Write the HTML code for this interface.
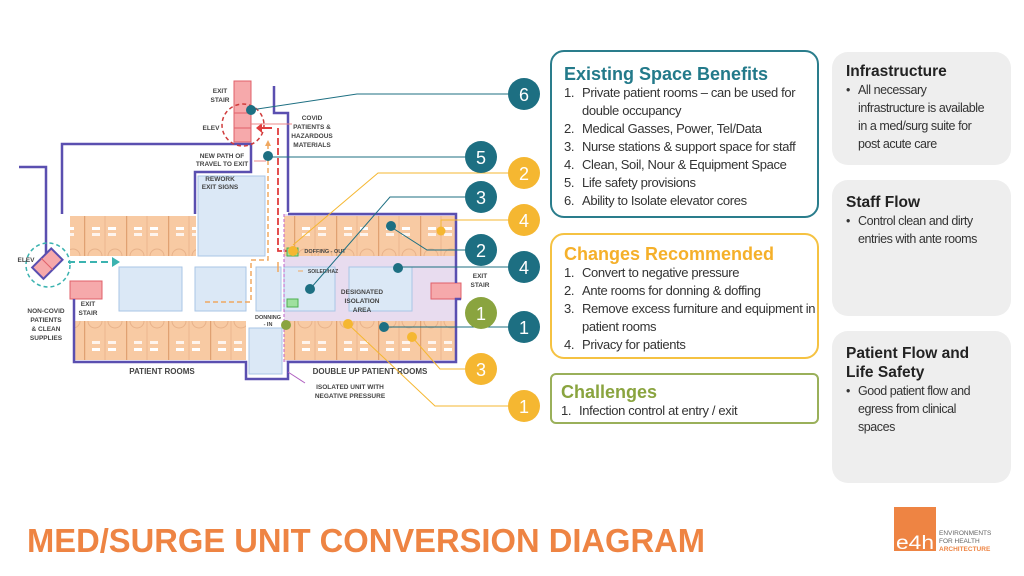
<!DOCTYPE html>
<html><head><meta charset="utf-8">
<style>
body{margin:0;width:1024px;height:576px;background:#fff;overflow:hidden;position:relative;font-family:"Liberation Sans",sans-serif}
.box{position:absolute;border-radius:14px;box-sizing:border-box}
.h{font-weight:bold;font-size:18px;line-height:20px}
ol{margin:0;padding:0;list-style:none;font-family:"Liberation Sans Narrow","Liberation Sans",sans-serif;font-size:13px;letter-spacing:-0.35px;color:#333;line-height:18px}
ol li{position:relative;padding-left:18px}
ol li span{position:absolute;left:0}
.g{background:#eeeeee;position:absolute;border-radius:16px;left:832px;width:179px;padding:10px 0 0 14px;box-sizing:border-box}
.g .t{font-weight:bold;font-size:15.5px;color:#222;line-height:19px}
.g .b{font-family:"Liberation Sans Narrow","Liberation Sans",sans-serif;font-size:12.5px;letter-spacing:-0.45px;color:#333;line-height:18px;padding-left:12px;padding-right:22px;position:relative}
.g .b:before{content:"•";position:absolute;left:0}
</style></head><body>
<svg width="1024" height="576" style="position:absolute;left:0;top:0">
<defs>
<pattern id="rt" x="0" y="216" width="42" height="40" patternUnits="userSpaceOnUse">
<rect width="42" height="40" fill="#f8caa3"/>
<line x1="0.5" y1="0" x2="0.5" y2="40" stroke="#e0a172" stroke-width="1.5"/>
<line x1="21" y1="0" x2="21" y2="40" stroke="#e8b28a" stroke-width="0.8"/>
<rect x="8" y="11" width="8" height="3" fill="#fff"/><rect x="24" y="11" width="8" height="3" fill="#fff"/>
<rect x="8" y="17" width="8" height="3" fill="#fff" opacity=".8"/><rect x="24" y="17" width="8" height="3" fill="#fff" opacity=".8"/>
<path d="M4 40 A7 7 0 0 1 18 40 M24 40 A7 7 0 0 1 38 40" fill="none" stroke="#e8b28a"/>
</pattern>
<pattern id="rb" x="0" y="321" width="42" height="39" patternUnits="userSpaceOnUse">
<rect width="42" height="39" fill="#f8caa3"/>
<line x1="0.5" y1="0" x2="0.5" y2="39" stroke="#e0a172" stroke-width="1.5"/>
<line x1="21" y1="0" x2="21" y2="39" stroke="#e8b28a" stroke-width="0.8"/>
<rect x="8" y="20" width="8" height="3" fill="#fff" opacity=".8"/><rect x="24" y="20" width="8" height="3" fill="#fff" opacity=".8"/>
<rect x="8" y="27" width="8" height="3" fill="#fff"/><rect x="24" y="27" width="8" height="3" fill="#fff"/>
<path d="M4 0 A7 7 0 0 0 18 0 M24 0 A7 7 0 0 0 38 0" fill="none" stroke="#e8b28a"/>
</pattern>
</defs>
<rect x="284" y="214" width="172" height="148" fill="#e8dcef"/>
<rect x="70" y="216" width="126" height="40" fill="url(#rt)"/>
<rect x="284" y="216" width="172" height="40" fill="url(#rt)"/>
<rect x="75" y="321" width="171" height="39" fill="url(#rb)"/>
<rect x="284" y="321" width="172" height="39" fill="url(#rb)"/>
<g fill="#dbe8f6" stroke="#a9c6e6" stroke-width="1">
<rect x="198" y="176" width="67" height="80"/>
<rect x="119" y="267" width="63" height="44"/>
<rect x="195" y="267" width="51" height="44"/>
<rect x="256" y="267" width="25" height="44"/>
<rect x="284" y="267" width="51" height="44"/>
<rect x="349" y="267" width="63" height="44"/>
<rect x="249" y="328" width="33" height="46"/>
</g>
<g fill="#f6a9ab" stroke="#e0606a" stroke-width="1">
<rect x="234" y="81" width="17" height="61"/>
<line x1="234" y1="113" x2="251" y2="113"/><line x1="234" y1="128" x2="251" y2="128"/>
<rect x="431" y="283" width="30" height="16"/>
<rect x="70" y="281" width="32" height="18"/>
</g>
<g fill="none" stroke="#5a4fb0" stroke-width="2.5">
<path d="M62 214 V144 H251 V172 H195 V214"/>
<path d="M274 86 V113 H288 V212"/>
<path d="M19 167 H46 V256"/>
<path d="M74 299 V362 H246 V379 H288 V362 H456 V299 H461"/>
<path d="M288 214 H456 V283"/>
</g>
<line x1="284" y1="214" x2="284" y2="362" stroke="#c060c8" stroke-width="1" stroke-dasharray="3 2"/>
<line x1="288" y1="372" x2="305" y2="383" stroke="#b060c0" stroke-width="1"/>
<circle cx="48" cy="265" r="22" fill="none" stroke="#3bb3b0" stroke-width="1.5" stroke-dasharray="4 3"/>
<g transform="rotate(-45 47 264)"><rect x="34" y="256" width="27" height="16" fill="#f6a9ab" stroke="#5a4fb0" stroke-width="2"/><line x1="47" y1="256" x2="47" y2="272" stroke="#e0606a"/></g>
<line x1="68" y1="262" x2="112" y2="262" stroke="#3bb3b0" stroke-width="2" stroke-dasharray="7 4"/>
<path d="M112 257 L120 262 L112 267Z" fill="#3bb3b0"/>
<circle cx="243" cy="125" r="21" fill="none" stroke="#d03c3c" stroke-width="1.5" stroke-dasharray="4 3"/>
<path d="M278 128 V251 H290" fill="none" stroke="#e03c3c" stroke-width="1.8" stroke-dasharray="7 3"/>
<line x1="260" y1="128" x2="272" y2="128" stroke="#e03c3c" stroke-width="2"/>
<path d="M262 123 L256 128 L262 133Z" fill="#e03c3c"/>
<path d="M268 144 V260 H251 V302 H205" fill="none" stroke="#f0a860" stroke-width="1.5" stroke-dasharray="5 3"/>
<path d="M265 146 L268 140 L271 146Z" fill="#f0a860"/>
<line x1="278" y1="262" x2="278" y2="272" stroke="#f0a860" stroke-width="1.5"/>
<rect x="287" y="248" width="11" height="8" fill="#9fe09f" stroke="#4caf50"/>
<rect x="287" y="299" width="11" height="8" fill="#9fe09f" stroke="#4caf50"/>
<g font-family="Liberation Sans,sans-serif" font-weight="bold" font-size="6.5" fill="#444" text-anchor="middle">
<text x="220" y="93">EXIT</text><text x="220" y="102">STAIR</text>
<text x="211" y="130">ELEV</text>
<text x="312" y="120">COVID</text><text x="312" y="129">PATIENTS &amp;</text><text x="312" y="138">HAZARDOUS</text><text x="312" y="147">MATERIALS</text>
<text x="222" y="158">NEW PATH OF</text><text x="222" y="166">TRAVEL TO EXIT</text>
<text x="220" y="181">REWORK</text><text x="220" y="189">EXIT SIGNS</text>
<text x="26" y="262">ELEV</text>
<text x="46" y="313">NON-COVID</text><text x="46" y="322">PATIENTS</text><text x="46" y="331">&amp; CLEAN</text><text x="46" y="340">SUPPLIES</text>
<text x="88" y="306">EXIT</text><text x="88" y="315">STAIR</text>
<text x="480" y="278">EXIT</text><text x="480" y="287">STAIR</text>
<text x="362" y="294">DESIGNATED</text><text x="362" y="303">ISOLATION</text><text x="362" y="312">AREA</text>
<text x="325" y="253" font-size="5.5">DOFFING - OUT</text>
<text x="323" y="273" font-size="5">SOILED/HAZ</text>
<text x="268" y="319" font-size="5.5">DONNING</text><text x="268" y="326" font-size="5.5">- IN</text>
<text x="162" y="374" font-size="8">PATIENT ROOMS</text>
<text x="370" y="374" font-size="8">DOUBLE UP PATIENT ROOMS</text>
<text x="350" y="389">ISOLATED UNIT WITH</text><text x="350" y="398">NEGATIVE PRESSURE</text>
</g>
<g stroke-width="1" fill="none">
<path d="M251 124 H292" stroke="#e88"/>
<path d="M254 161 H266" stroke="#e88"/>
<path d="M298 252 H300 M298 271 H303" stroke="#f0a860"/>
</g>
<g fill="none" stroke-width="1">
<path d="M508 94 H357 L251 110" stroke="#1d6f82"/>
<path d="M465 157 H268" stroke="#1d6f82"/>
<path d="M508 173 H378 L293 245" stroke="#f5b731"/>
<path d="M465 197 H390 L310 289" stroke="#1d6f82"/>
<path d="M508 220 H441 V231" stroke="#f5b731"/>
<path d="M465 250 H427 L391 227" stroke="#1d6f82"/>
<path d="M508 267 H398" stroke="#1d6f82"/>
<path d="M508 327 H384" stroke="#1d6f82"/>
<path d="M465 369 H440 L412 337" stroke="#f5b731"/>
<path d="M508 406 H435 L348 324" stroke="#f5b731"/>
</g>
<g fill="#1d6f82"><circle cx="251" cy="110" r="5"/><circle cx="268" cy="156" r="5"/><circle cx="310" cy="289" r="5"/><circle cx="391" cy="226" r="5"/><circle cx="398" cy="268" r="5"/><circle cx="384" cy="327" r="5"/></g>
<g fill="#f5b731"><circle cx="293" cy="251" r="5"/><circle cx="441" cy="231" r="4.5"/><circle cx="412" cy="337" r="5"/><circle cx="348" cy="324" r="5"/></g>
<circle cx="286" cy="325" r="5" fill="#8aa43f"/>
<g font-family="Liberation Sans,sans-serif" font-size="18" fill="#fff" text-anchor="middle">
<circle cx="524" cy="94" r="16" fill="#1d6f82"/><text x="524" y="101">6</text>
<circle cx="481" cy="157" r="16" fill="#1d6f82"/><text x="481" y="164">5</text>
<circle cx="524" cy="173" r="16" fill="#f5b731"/><text x="524" y="180">2</text>
<circle cx="481" cy="197" r="16" fill="#1d6f82"/><text x="481" y="204">3</text>
<circle cx="524" cy="220" r="16" fill="#f5b731"/><text x="524" y="227">4</text>
<circle cx="481" cy="250" r="16" fill="#1d6f82"/><text x="481" y="257">2</text>
<circle cx="524" cy="267" r="16" fill="#1d6f82"/><text x="524" y="274">4</text>
<circle cx="481" cy="313" r="16" fill="#8aa43f"/><text x="481" y="320">1</text>
<circle cx="524" cy="327" r="16" fill="#1d6f82"/><text x="524" y="334">1</text>
<circle cx="481" cy="369" r="16" fill="#f5b731"/><text x="481" y="376">3</text>
<circle cx="524" cy="406" r="16" fill="#f5b731"/><text x="524" y="413">1</text>
</g>
<text x="27" y="552" font-family="Liberation Sans,sans-serif" font-weight="bold" font-size="33" fill="#ee8443" textLength="678" lengthAdjust="spacingAndGlyphs">MED/SURGE UNIT CONVERSION DIAGRAM</text>
<rect x="894" y="507" width="42" height="44" fill="#ee8443"/>
<text x="896" y="549" font-family="Liberation Sans,sans-serif" font-size="19" fill="#fff" textLength="38" lengthAdjust="spacingAndGlyphs">e4h</text>
<g font-family="Liberation Sans,sans-serif" font-size="6.5"><text x="939" y="535" fill="#666">ENVIRONMENTS</text><text x="939" y="543" fill="#666">FOR HEALTH</text><text x="939" y="551" fill="#ee8443" font-weight="bold">ARCHITECTURE</text></g>
</svg>

<div class="box" style="left:550px;top:50px;width:269px;height:168px;border:2px solid #2a7d8c;padding:12px 0 0 12px">
<div class="h" style="color:#237a8a">Existing Space Benefits</div>
<ol><li><span>1.</span>Private patient rooms – can be used for double occupancy</li><li><span>2.</span>Medical Gasses, Power, Tel/Data</li><li><span>3.</span>Nurse stations &amp; support space for staff</li><li><span>4.</span>Clean, Soil, Nour &amp; Equipment Space</li><li><span>5.</span>Life safety provisions</li><li><span>6.</span>Ability to Isolate elevator cores</li></ol>
</div>
<div class="box" style="left:550px;top:233px;width:269px;height:126px;border:2px solid #f5c242;padding:9px 0 0 12px">
<div class="h" style="color:#f5b02a">Changes Recommended</div>
<ol><li><span>1.</span>Convert to negative pressure</li><li><span>2.</span>Ante rooms for donning &amp; doffing</li><li><span>3.</span>Remove excess furniture and equipment in patient rooms</li><li><span>4.</span>Privacy for patients</li></ol>
</div>
<div class="box" style="left:550px;top:373px;width:269px;height:51px;border:2px solid #9ab05a;border-radius:6px;padding:7px 0 0 9px">
<div class="h" style="color:#8aa43f">Challenges</div>
<ol><li><span>1.</span>Infection control at entry / exit</li></ol>
</div>

<div class="g" style="top:52px;height:113px"><div class="t">Infrastructure</div><div class="b">All necessary infrastructure is available in a med/surg suite for post acute care</div></div>
<div class="g" style="top:180px;height:136px;padding-top:13px"><div class="t">Staff Flow</div><div class="b">Control clean and dirty entries with ante rooms</div></div>
<div class="g" style="top:331px;height:152px;padding-top:13px"><div class="t">Patient Flow and<br>Life Safety</div><div class="b">Good patient flow and egress from clinical spaces</div></div>
</body></html>
